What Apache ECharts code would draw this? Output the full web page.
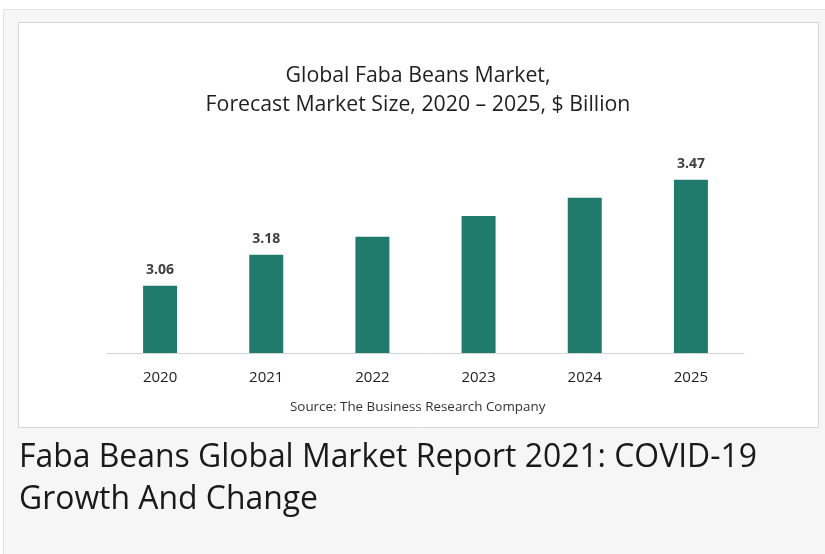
<!DOCTYPE html>
<html>
<head>
<meta charset="utf-8">
<script src="https://cdn.jsdelivr.net/npm/echarts@6/dist/echarts.min.js"></script>
<style>
html,body{margin:0;padding:0;background:#fff;}
#chart{width:825px;height:554px;}
</style>
</head>
<body>
<div id="chart"></div>
<script>
var categories = ['2020', '2021', '2022', '2023', '2024', '2025'];
var marketSize = [3.06, 3.18, 3.25, 3.33, 3.40, 3.47];
var labelShown = [true, true, false, false, false, true];
var titleLines = ['Global Faba Beans Market,', 'Forecast Market Size, 2020 \u2013 2025, $ Billion'];
var sourceText = 'Source: The Business Research Company';
var captionLines = ['Faba Beans Global Market Report 2021: COVID-19', 'Growth And Change'];

var chart = echarts.init(document.getElementById('chart'), null, {renderer: 'canvas'});
var font = '"Open Sans", sans-serif';
chart.setOption({
  backgroundColor: '#ffffff',
  animation: false,
  graphic: [
    {type: 'rect', z: -10, shape: {x: 3.5, y: 9.5, width: 830, height: 560},
     style: {fill: '#f6f6f6', stroke: '#e2e2e2', lineWidth: 1}},
    {type: 'rect', z: -9, shape: {x: 18.5, y: 22.5, width: 800, height: 405},
     style: {fill: '#ffffff', stroke: '#d6d6d6', lineWidth: 1}},
    {type: 'text', left: 19, top: 437,
     style: {text: captionLines.join('\n'), fill: '#1a1a1a', font: '31.9px ' + font, lineHeight: 42}},
    {type: 'text', left: 290, top: 401,
     style: {text: sourceText, fill: '#333333', font: '13.4px ' + font}}
  ],
  title: {
    text: titleLines.join('\n'),
    left: 413, top: 56, textAlign: 'center',
    textStyle: {fontFamily: font, fontSize: 21.3, fontWeight: 'normal', color: '#1f1f1f', lineHeight: 29}
  },
  grid: {left: 107, right: 81, top: 172, bottom: 201, containLabel: false},
  xAxis: {
    type: 'category', data: categories,
    axisLine: {lineStyle: {color: '#d4d4d4', width: 1}},
    axisTick: {show: false},
    axisLabel: {color: '#222222', fontFamily: font, fontSize: 15, margin: 17}
  },
  yAxis: {
    type: 'value', min: 2.8, max: 3.5, show: false,
    splitLine: {show: false}
  },
  series: [{
    type: 'bar',
    barWidth: 34,
    itemStyle: {color: '#207b6c'},
    data: marketSize.map(function (v, i) {
      return {value: v, label: {show: labelShown[i]}};
    }),
    label: {
      position: 'top', distance: 9, color: '#404040',
      fontFamily: font, fontSize: 14, fontWeight: 'bold',
      formatter: function (p) { return p.value.toFixed(2); }
    }
  }]
});
</script>
</body>
</html>
